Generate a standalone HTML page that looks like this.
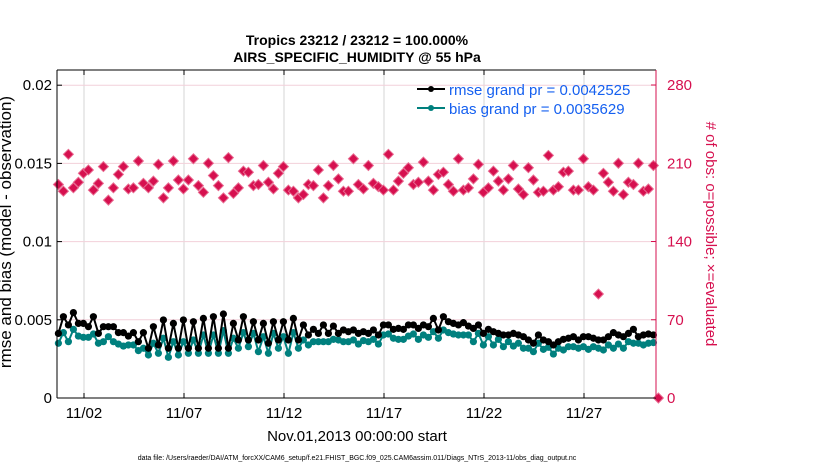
<!DOCTYPE html>
<html><head><meta charset="utf-8"><style>
body{margin:0;background:#fff;}
svg{display:block;font-family:"Liberation Sans",Arial,sans-serif;}
</style></head><body>
<svg id="chart" width="830" height="470" viewBox="0 0 830 470">
<g id="grid"></g>
<g id="series"></g>
<g id="axes"></g>
<text x="357" y="45" text-anchor="middle" font-size="14" font-weight="bold">Tropics 23212 / 23212 = 100.000%</text>
<text x="357" y="62" text-anchor="middle" font-size="14" font-weight="bold">AIRS_SPECIFIC_HUMIDITY @ 55 hPa</text>
<text x="357" y="441" text-anchor="middle" font-size="15">Nov.01,2013 00:00:00 start</text>
<text transform="translate(11,232) rotate(-90)" text-anchor="middle" font-size="17">rmse and bias (model - observation)</text>
<text transform="translate(706,234) rotate(90)" text-anchor="middle" font-size="15" fill="#d6104f"># of obs: o=possible; ×=evaluated</text>
<text x="357" y="460" text-anchor="middle" font-size="7">data file: /Users/raeder/DAI/ATM_forcXX/CAM6_setup/f.e21.FHIST_BGC.f09_025.CAM6assim.011/Diags_NTrS_2013-11/obs_diag_output.nc</text>
<g>
<line x1="417" y1="89" x2="445" y2="89" stroke="#000" stroke-width="2"/><circle cx="431" cy="89" r="3" fill="#000"/>
<text x="449" y="95" font-size="15" fill="#1560f0">rmse grand pr = 0.0042525</text>
<line x1="417" y1="108" x2="445" y2="108" stroke="#00807e" stroke-width="2"/><circle cx="431" cy="108" r="3" fill="#00807e"/>
<text x="449" y="114" font-size="15" fill="#1560f0">bias grand pr = 0.0035629</text>
</g>
</svg>
<script>
const rmseValues=[.00413,.00520,.00467,.00546,.00477,.00477,.00456,.00520,.00413,.00456,.00456,.00456,.00418,.00418,.00396,.00418,.00360,.00418,.00318,.00456,.00339,.00499,.00318,.00477,.00318,.00499,.00318,.00488,.00318,.00509,.00318,.00520,.00318,.00537,.00318,.00477,.00371,.00520,.00371,.00488,.00371,.00477,.00350,.00488,.00371,.00488,.00371,.00509,.00371,.00467,.00403,.00439,.00413,.00467,.00413,.00460,.00413,.00435,.00424,
.00435,.00413,.00424,.00413,.00435,.00403,.00467,.00467,.00439,.00445,.00439,.00467,.00467,.00445,.00467,.00456,.00509,.00435,.00520,.00488,.00477,.00467,.00482,.00460,.00445,.00467,.00413,.00439,.00424,.00413,.00403,.00403,.00413,.00403,.00392,.00371,.00350,.00403,.00371,.00360,.00339,.00360,.00375,.00382,.00392,.00371,.00392,.00392,.00382,.00371,.00371,.00392,.00418,.00403,.00392,.00413,.00439,.00392,.00403,.00409,.00403];
const biasValues=[.00350,.00418,.00360,.00439,.00396,.00388,.00388,.00409,.00350,.00360,.00392,.00360,.00345,.00332,.00339,.00339,.00303,.00318,.00275,.00350,.00286,.00382,.00260,.00360,.00275,.00360,.00286,.00371,.00286,.00403,.00286,.00403,.00286,.00431,.00286,.00382,.00318,.00418,.00328,.00413,.00296,.00392,.00286,.00413,.00318,.00392,.00286,.00418,.00318,.00371,.00339,.00360,.00360,.00360,.00360,.00375,.00371,.00360,.00360,
.00371,.00345,.00367,.00360,.00375,.00345,.00403,.00409,.00382,.00375,.00375,.00396,.00409,.00375,.00403,.00388,.00424,.00382,.00435,.00418,.00409,.00403,.00403,.00403,.00360,.00413,.00339,.00392,.00339,.00375,.00328,.00360,.00332,.00350,.00318,.00318,.00296,.00350,.00311,.00324,.00281,.00318,.00307,.00328,.00328,.00318,.00328,.00311,.00328,.00318,.00307,.00339,.00318,.00345,.00318,.00360,.00350,.00350,.00339,.00350,.00354];
const obsCounts=[191,185,218,188,193,201,204,186,192,207,177,188,200,207,187,188,212,192,188,194,209,179,188,212,195,187,195,214,190,184,210,199,190,179,215,183,188,203,202,190,191,208,193,187,201,207,186,185,179,182,191,190,204,179,190,208,196,185,185,
214,191,187,208,192,189,186,218,186,194,201,206,191,193,211,194,186,200,202,191,185,214,186,188,196,209,184,188,203,194,186,196,208,187,182,206,195,184,185,217,186,189,202,203,186,186,214,189,186,93,201,193,185,210,182,193,191,210,185,187,208,0];
const xTickDays=[2,7,12,17,22,27];
const xTickLabels=["11/02","11/07","11/12","11/17","11/22","11/27"];
const yLeftTicks=[0,0.005,0.01,0.015,0.02];
const yLeftLabels=["0","0.005","0.01","0.015","0.02"];
const yRightTicks=[0,70,140,210,280];
const startDay=0.72, stepDay=0.25;

const L=57,R=656,T=70,B=398;
const xs=d=>64+20*(d-1);
const yl=v=>B-v/0.005*78.2;
const yr=v=>B-v*(313/280);
const NS="http://www.w3.org/2000/svg";
function mk(p,tag,at){const e=document.createElementNS(NS,tag);for(const k in at)e.setAttribute(k,at[k]);p.appendChild(e);return e;}
const grid=document.getElementById('grid'),ser=document.getElementById('series'),ax=document.getElementById('axes');

xTickDays.forEach((d,i)=>{
  const g=mk(grid,'line',{x1:xs(d),x2:xs(d),y1:T,y2:B,stroke:'#d6d6d6','stroke-width':1});
  
  
  mk(ax,'line',{x1:xs(d),x2:xs(d),y1:B,y2:B-5,stroke:'#000'});
  mk(ax,'line',{x1:xs(d),x2:xs(d),y1:T,y2:T+5,stroke:'#000'});
  const t=mk(ax,'text',{x:xs(d),y:B+20,'text-anchor':'middle','font-size':15});
  t.textContent=xTickLabels[i];
  
  
});
yLeftTicks.forEach((v,i)=>{
  if(v>0){const g=mk(grid,'line',{x1:L,x2:R,y1:yl(v),y2:yl(v),stroke:'#f2d0da','stroke-width':1});
  
  }
  mk(ax,'line',{x1:L,x2:L+5,y1:yl(v),y2:yl(v),stroke:'#000'});
  const t=mk(ax,'text',{x:L-5,y:yl(v)+5,'text-anchor':'end','font-size':15});
  t.textContent=yLeftLabels[i];
  
  
});
yRightTicks.forEach(v=>{
  mk(ax,'line',{x1:R-5,x2:R,y1:yr(v),y2:yr(v),stroke:'#d6104f'});
  const t=mk(ax,'text',{x:R+11,y:yr(v)+5,'font-size':15,fill:'#d6104f'});
  t.textContent=String(v);
  
  
});
mk(ax,'line',{x1:L,x2:R,y1:T,y2:T,stroke:'#000'});
mk(ax,'line',{x1:L,x2:R,y1:B,y2:B,stroke:'#000'});
mk(ax,'line',{x1:L,x2:L,y1:T,y2:B,stroke:'#000'});
mk(ax,'line',{x1:R,x2:R,y1:T,y2:B,stroke:'#d6104f'});

obsCounts.forEach((v,i)=>{
  const x=xs(startDay+i*stepDay),y=yr(v),s=5;
  const p=mk(ser,'path',{d:`M${x},${y-s}L${x+s},${y}L${x},${y+s}L${x-s},${y}Z`,fill:'#d6104f',stroke:'#e86a90','stroke-width':1});
  
  
});
function line(vals,color,name){
  const pts=vals.map((v,i)=>xs(startDay+i*stepDay)+','+yl(v)).join(' ');
  const pl=mk(ser,'polyline',{points:pts,fill:'none',stroke:color,'stroke-width':2});
  
  
  vals.forEach((v,i)=>{
    const c=mk(ser,'circle',{cx:xs(startDay+i*stepDay),cy:yl(v),r:3.6,fill:color});
    
    
  });
}
line(biasValues,'#00807e','bias');
line(rmseValues,'#000000','rmse');
</script>
</body></html>
